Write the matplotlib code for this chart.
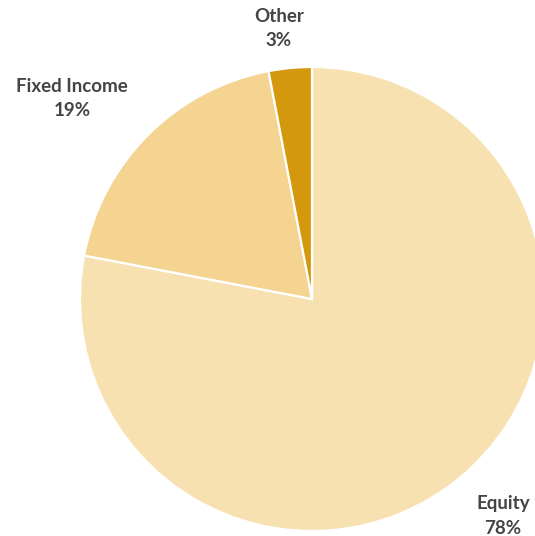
import matplotlib
matplotlib.use("Agg")
import matplotlib.pyplot as plt

categories = ["Equity", "Fixed Income", "Other"]
shares = [78, 19, 3]
colors = ["#F8E1B0", "#F5D390", "#D4980F"]

W, H = 535, 536
fig = plt.figure(figsize=(W / 100, H / 100), dpi=100)
ax = fig.add_axes([0, 0, 1, 1])

cx, cy, r = 312, H - 299, 232
ax.pie(shares, colors=colors, startangle=90, counterclock=False,
       center=(cx, cy), radius=r, frame=True,
       wedgeprops=dict(edgecolor="white", linewidth=1.6))
ax.set_xlim(0, W)
ax.set_ylim(0, H)
ax.set_aspect("equal")
ax.axis("off")

label_pos = {"Equity": (503, 504), "Fixed Income": (72, 86), "Other": (279, 16)}
font = dict(family=["Lato", "DejaVu Sans"], fontweight="bold", fontsize=13.5,
            color="#444444", ha="center", va="center")
for name, val in zip(categories, shares):
    x, y = label_pos[name]
    ax.text(x, H - y, name, **font)
    ax.text(x, H - (y + 24), f"{val}%", **font)

fig.savefig("out.png", dpi=100)
